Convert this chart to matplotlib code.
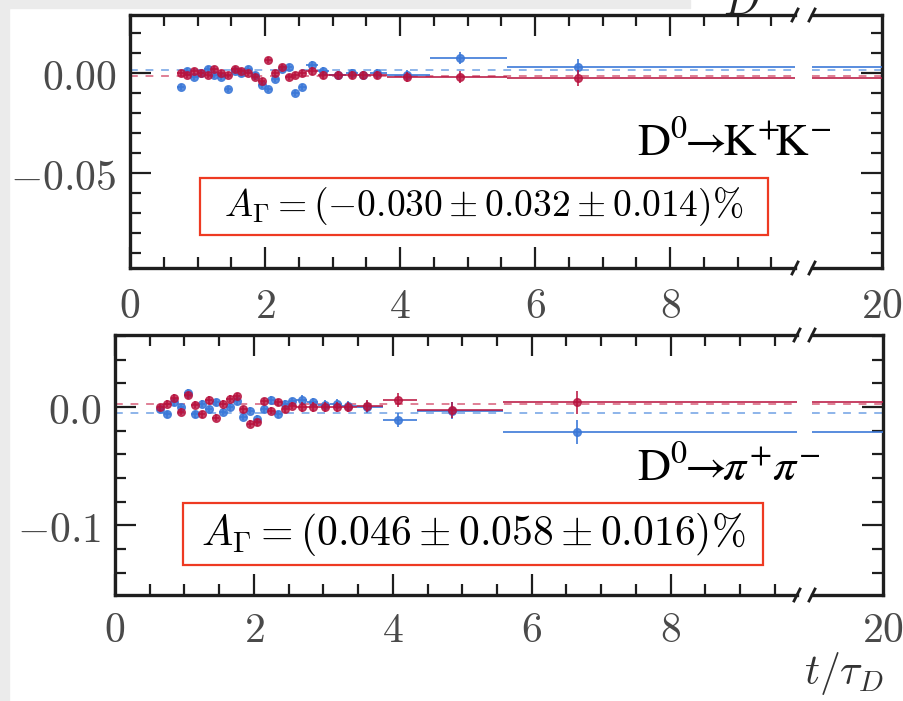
import numpy as np
import matplotlib
matplotlib.use("Agg")
import matplotlib.pyplot as plt
from matplotlib.patches import Rectangle
from matplotlib.lines import Line2D
from matplotlib.ticker import MultipleLocator, FixedLocator, FuncFormatter, NullLocator

plt.rcParams['mathtext.fontset'] = 'cm'
plt.rcParams['font.family'] = ['DejaVu Serif']

# D0 -> K+K-  (top panel)
kk_edges = [0.70, 0.80, 0.90, 1.00, 1.10, 1.20, 1.30, 1.40, 1.50, 1.60, 1.70, 1.80, 1.90, 2.00,
            2.10, 2.20, 2.30, 2.40, 2.50, 2.60, 2.78, 2.95, 3.20, 3.37, 3.55, 3.80, 4.44, 5.59, 20.0]
kk_t = [0.75, 0.85, 0.95, 1.05, 1.15, 1.25, 1.35, 1.45, 1.55, 1.65, 1.75, 1.85, 1.95, 2.05,
        2.15, 2.25, 2.35, 2.45, 2.55, 2.70, 2.86, 3.08, 3.29, 3.45, 3.66, 4.10, 4.89, 6.64]
kk_blue = [-0.007, 0.001, -0.002, 0.000, 0.002, -0.001, -0.002, -0.008, 0.001, 0.000, 0.002, -0.001, -0.006, -0.008,
           -0.003, 0.002, 0.003, -0.010, -0.007, 0.004, 0.001, -0.001, 0.000, -0.001, 0.000, -0.001, 0.0077, 0.003]
kk_red = [0.000, -0.001, 0.001, 0.000, -0.001, 0.002, 0.000, -0.001, 0.002, 0.001, 0.000, -0.002, -0.004, 0.0066,
          0.000, 0.003, -0.002, -0.001, 0.000, 0.001, -0.001, -0.001, -0.001, -0.001, -0.001, -0.002, -0.0018, -0.0024]
kk_err = [0.0015, 0.0015, 0.0015, 0.0015, 0.0015, 0.0015, 0.0015, 0.0015, 0.0015, 0.0015, 0.0015, 0.0015, 0.0015, 0.0015,
          0.0015, 0.0015, 0.0015, 0.0015, 0.0015, 0.002, 0.002, 0.002, 0.002, 0.002, 0.002, 0.0025, 0.003, 0.004]
kk_fit = (0.0015, -0.0015)
kk_result = r'$A_\Gamma = (-0.030 \pm 0.032 \pm 0.014)\%$'
kk_name = r'$\mathrm{D^0\!\!\rightarrow\!\!K^{\!+}\!\!K^{\!-}}$'

# D0 -> pi+pi-  (bottom panel)
pp_edges = [0.60, 0.70, 0.80, 0.90, 1.00, 1.10, 1.20, 1.30, 1.40, 1.50, 1.60, 1.70, 1.80, 1.90, 2.00,
            2.10, 2.20, 2.30, 2.40, 2.50, 2.60, 2.77, 2.93, 3.10, 3.27, 3.48, 3.86, 4.35, 5.58, 20.0]
pp_t = [0.65, 0.75, 0.85, 0.95, 1.05, 1.15, 1.25, 1.35, 1.45, 1.55, 1.65, 1.75, 1.85, 1.95, 2.05,
        2.15, 2.25, 2.35, 2.45, 2.55, 2.69, 2.85, 3.02, 3.19, 3.35, 3.63, 4.07, 4.85, 6.65]
pp_blue = [-0.002, -0.006, 0.004, 0.000, 0.012, -0.006, 0.003, -0.002, 0.004, -0.004, 0.000, 0.005, -0.008, -0.003, -0.010,
           -0.002, 0.006, -0.006, 0.003, 0.005, 0.006, 0.004, 0.002, 0.003, 0.001, 0.000, -0.011, -0.003, -0.021]
pp_red = [0.000, 0.003, 0.008, -0.004, 0.010, 0.002, -0.006, 0.006, -0.009, 0.003, 0.007, 0.009, -0.002, -0.014, -0.013,
          0.005, -0.003, 0.004, -0.002, 0.001, 0.000, 0.000, 0.000, 0.000, 0.000, 0.001, 0.006, -0.0025, 0.004]
pp_err = [0.003, 0.003, 0.003, 0.003, 0.003, 0.003, 0.003, 0.003, 0.003, 0.003, 0.003, 0.003, 0.003, 0.003, 0.003,
          0.003, 0.003, 0.003, 0.003, 0.003, 0.004, 0.004, 0.004, 0.004, 0.004, 0.005, 0.006, 0.007, 0.010]
pp_fit = (-0.005, 0.0025)
pp_result = r'$A_\Gamma = (0.046 \pm 0.058 \pm 0.016)\%$'
pp_name = r'$\mathrm{D^0\!\!\rightarrow\!\!}\pi^{\!+}\!\pi^{\!-}$'

BLUE = '#3b78d8'
RED = '#b8123e'
BLUE_L = '#8db4ea'
RED_L = '#e07f95'
SPINE = '#1e1e1e'
LABEL = '#4a4a4a'

W, H = 904, 701
fig = plt.figure(figsize=(W / 100, H / 100), dpi=100)
fig.patch.set_facecolor('white')


def box(x0, y0, x1, y1):
    # pixel box (top-down) -> figure fraction rect
    return [x0 / W, 1 - y1 / H, (x1 - x0) / W, (y1 - y0) / H]


def fx(x):
    return x / W


def fy(y):
    return 1 - y / H


def panel(main_box, side_box, xmax, ylim, ymaj, ymin, ydec, edges, t, blue, red, err, fit, xpad):
    t = np.array(t)
    e = np.array(edges)
    xerr = [t - e[:-1], e[1:] - t]
    ax = fig.add_axes(box(*main_box))
    ax2 = fig.add_axes(box(*side_box))
    for a in (ax, ax2):
        a.errorbar(t, blue, yerr=err, xerr=xerr, fmt='o', ms=5.5, color=BLUE, elinewidth=1.4,
                   capsize=0, alpha=0.85, zorder=3)
        a.errorbar(t, red, yerr=err, xerr=xerr, fmt='o', ms=5.5, color=RED, elinewidth=1.4,
                   capsize=0, alpha=0.8, zorder=4)
        a.axhline(fit[0], color=BLUE_L, ls=(0, (4, 4)), lw=1.4, zorder=2)
        a.axhline(fit[1], color=RED_L, ls=(0, (4, 4)), lw=1.4, zorder=2)
        a.set_ylim(ylim)
        a.yaxis.set_major_locator(MultipleLocator(ymaj))
        a.yaxis.set_minor_locator(MultipleLocator(ymin))
        for s in a.spines.values():
            s.set_color(SPINE)
            s.set_linewidth(2.4)
    ax.set_xlim(0, xmax)
    ax.spines['right'].set_visible(False)
    ax.xaxis.set_major_locator(MultipleLocator(2))
    ax.xaxis.set_minor_locator(MultipleLocator(0.5))
    ax.xaxis.set_major_formatter(FuncFormatter(lambda v, p: '$%d$' % round(v)))
    ax.yaxis.set_major_formatter(FuncFormatter(lambda v, p: ('$%.' + str(ydec) + 'f$') % (0.0 if abs(v) < 1e-9 else v)))
    ax.tick_params(which='both', direction='in', top=True, right=False, color=SPINE,
                   labelcolor=LABEL, labelsize=30, width=1.6)
    ax.tick_params(which='major', length=15)
    ax.tick_params(which='minor', length=8)
    ax.tick_params(axis='y', pad=10)
    ax.tick_params(axis='x', pad=xpad)

    ax2.set_xlim(10, 20)
    ax2.spines['left'].set_visible(False)
    ax2.xaxis.set_major_locator(FixedLocator([20]))
    ax2.xaxis.set_minor_locator(NullLocator())
    ax2.xaxis.set_major_formatter(FuncFormatter(lambda v, p: '$%d$' % round(v)))
    ax2.tick_params(axis='x', length=0, labelcolor=LABEL, labelsize=30, pad=xpad)
    ax2.tick_params(axis='y', which='both', direction='in', left=False, right=True,
                    labelleft=False, color=SPINE, width=1.6)
    ax2.tick_params(axis='y', which='major', length=15)
    ax2.tick_params(axis='y', which='minor', length=8)

    # break marks
    x_end = main_box[2]
    x_start = side_box[0]
    for yy in (main_box[1], main_box[3]):
        for xx in (x_end, x_start):
            fig.add_artist(Line2D([fx(xx - 3), fx(xx + 3)], [fy(yy + 6), fy(yy - 6)],
                                  color=SPINE, lw=2.0))
    return ax, ax2


panel((130, 15, 795, 268), (812, 15, 882, 268), 9.85, (-0.0975, 0.029), 0.05, 0.01, 2,
      kk_edges, kk_t, kk_blue, kk_red, kk_err, kk_fit, 12)
panel((115, 335, 797, 595), (812, 335, 883, 595), 9.82, (-0.159, 0.061), 0.1, 0.02, 1,
      pp_edges, pp_t, pp_blue, pp_red, pp_err, pp_fit, 10)

# result boxes
for (x0, y0, x1, y1), txt, fs in (((200, 178, 768, 235), kk_result, 27),
                                  ((183, 503, 763, 565), pp_result, 30)):
    fig.add_artist(Rectangle((fx(x0), fy(y1)), fx(x1) - fx(x0), fy(y0) - fy(y1),
                             transform=fig.transFigure, facecolor='white',
                             edgecolor='#ee3a22', lw=1.6, zorder=5))
    fig.text(fx((x0 + x1) / 2), fy((y0 + y1) / 2), txt, ha='center', va='center',
             fontsize=fs, math_fontfamily='cm', zorder=6)

# decay labels
fig.text(fx(637), fy(157), kk_name, ha='left', va='baseline', fontsize=33, math_fontfamily='stix')
fig.text(fx(637), fy(482), pp_name, ha='left', va='baseline', fontsize=33, math_fontfamily='stix')

# axis label and cut-off fragment at the top
fig.text(fx(883), fy(684), r'$t/\tau_D$', ha='right', va='baseline', fontsize=30, color='#333333')
fig.text(fx(723), fy(14), r'$D$', ha='left', va='baseline', fontsize=31, color='#222222')

# light grey border strips
fig.add_artist(Rectangle((0, 0), fx(9), 1, transform=fig.transFigure, color='#ebebeb', zorder=-1))
fig.add_artist(Rectangle((0, fy(8)), fx(690), fy(0) - fy(8), transform=fig.transFigure,
                         color='#ebebeb', zorder=-1))

fig.savefig('out.png', dpi=100)
